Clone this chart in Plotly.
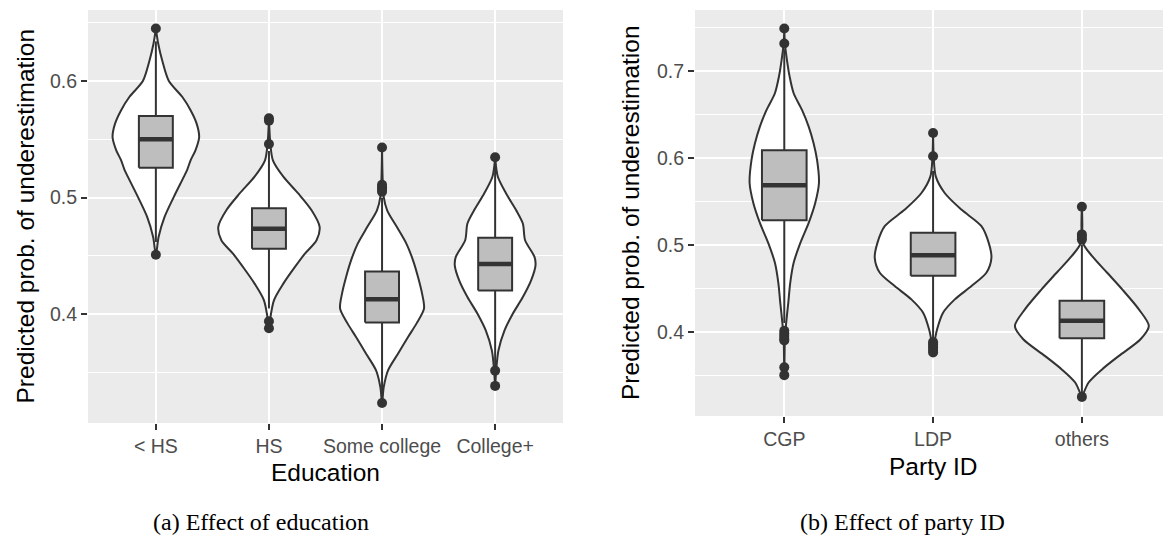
import plotly.graph_objects as go

W, H = 1163, 535

# ---------------- data ----------------
edu_cats = ["< HS", "HS", "Some college", "College+"]
party_cats = ["CGP", "LDP", "others"]

# violin outlines: levels of predicted probability and half-widths (category units)
lths_levels = [0.645, 0.632, 0.618, 0.600, 0.5865, 0.575, 0.5637, 0.552, 0.5408, 0.532, 0.5236, 0.518, 0.5007, 0.4835, 0.4663, 0.451]
lths_hw     = [0.0, 0.021, 0.055, 0.115, 0.233, 0.307, 0.360, 0.383, 0.351, 0.307, 0.276, 0.248, 0.159, 0.077, 0.024, 0.0]

hs_levels = [0.568, 0.5465, 0.532, 0.518, 0.5036, 0.4892, 0.475, 0.4635, 0.452, 0.4406, 0.4263, 0.412, 0.3948, 0.387]
hs_hw     = [0.0, 0.012, 0.035, 0.127, 0.259, 0.377, 0.448, 0.421, 0.318, 0.230, 0.127, 0.044, 0.009, 0.0]

sc_levels = [0.543, 0.5007, 0.4892, 0.475, 0.4606, 0.4463, 0.432, 0.4177, 0.4048, 0.392, 0.3805, 0.3662, 0.3519, 0.3376, 0.324]
sc_hw     = [0.0, 0.015, 0.045, 0.130, 0.215, 0.274, 0.318, 0.354, 0.371, 0.304, 0.230, 0.141, 0.053, 0.015, 0.0]

cp_levels = [0.5346, 0.5179, 0.5036, 0.4892, 0.4778, 0.4635, 0.4492, 0.442, 0.4291, 0.4148, 0.4005, 0.3862, 0.369, 0.3519, 0.3386]
cp_hw     = [0.0, 0.024, 0.097, 0.186, 0.245, 0.265, 0.348, 0.357, 0.318, 0.245, 0.156, 0.083, 0.029, 0.009, 0.0]

cgp_levels = [0.749, 0.7318, 0.7126, 0.6935, 0.6744, 0.6552, 0.636, 0.6169, 0.5979, 0.5711, 0.5481, 0.5252, 0.5022, 0.4793, 0.4563, 0.4334, 0.4104, 0.3913, 0.3493]
cgp_hw     = [0.0, 0.004, 0.018, 0.036, 0.063, 0.119, 0.164, 0.197, 0.220, 0.233, 0.208, 0.164, 0.108, 0.063, 0.040, 0.027, 0.013, 0.004, 0.0]

ldp_levels = [0.6286, 0.6017, 0.5787, 0.5596, 0.5405, 0.5214, 0.5022, 0.485, 0.4678, 0.4525, 0.4372, 0.4219, 0.4028, 0.3875, 0.376]
ldp_hw     = [0.0, 0.004, 0.018, 0.078, 0.190, 0.325, 0.374, 0.392, 0.358, 0.258, 0.146, 0.067, 0.027, 0.009, 0.0]

oth_levels = [0.5438, 0.5022, 0.4869, 0.4678, 0.4487, 0.4257, 0.4066, 0.3913, 0.3722, 0.3569, 0.3415, 0.3262, 0.325]
oth_hw     = [0.0, 0.007, 0.069, 0.170, 0.271, 0.383, 0.450, 0.394, 0.249, 0.137, 0.045, 0.004, 0.0]

# box statistics
edu_q1     = [0.5257, 0.4563, 0.3929, 0.4203]
edu_median = [0.5500, 0.4734, 0.4129, 0.4432]
edu_q3     = [0.5700, 0.4909, 0.4366, 0.4657]
edu_lowf   = [0.4620, 0.4050, 0.3280, 0.3540]
edu_upf    = [0.6340, 0.5400, 0.5000, 0.5320]

party_q1     = [0.5282, 0.4645, 0.3924]
party_median = [0.5686, 0.4881, 0.4126]
party_q3     = [0.6087, 0.5140, 0.4355]
party_lowf   = [0.4100, 0.3920, 0.3280]
party_upf    = [0.7250, 0.5850, 0.5000]

# outliers
lths_out = [0.645, 0.451]
hs_out   = [0.568, 0.566, 0.546, 0.394, 0.388]
sc_out   = [0.543, 0.511, 0.509, 0.507, 0.505, 0.324]
cp_out   = [0.5346, 0.3517, 0.3386]
cgp_out  = [0.749, 0.7317, 0.401, 0.398, 0.395, 0.392, 0.390, 0.359, 0.350]
ldp_out  = [0.6286, 0.602, 0.388, 0.385, 0.382, 0.379, 0.376]
oth_out  = [0.5438, 0.512, 0.509, 0.506, 0.325]

# ---------------- styling ----------------
DARK = "#333333"
PANEL = "#EBEBEB"
BOXFILL = "#BEBEBE"
SANS = "Liberation Sans, Arial, sans-serif"
SERIF = "Liberation Serif, Times New Roman, serif"
BOX_W = 0.3

fig = go.Figure()


def add_panel(xa, ya, levels_list, hw_list, q1, med, q3, lowf, upf, outs):
    n = len(levels_list)
    pos = list(range(1, n + 1))
    common = dict(xaxis=xa, yaxis=ya, hoverinfo="skip", showlegend=False)
    # violins
    for c, lv, hw in zip(pos, levels_list, hw_list):
        xs = [c + w for w in reversed(hw)] + [c - w for w in hw]
        ys = list(reversed(lv)) + list(lv)
        fig.add_trace(go.Scatter(
            x=xs, y=ys, mode="lines", fill="toself", fillcolor="white",
            line=dict(color=DARK, width=2, shape="spline", smoothing=0.8),
            **common))
    # whiskers
    wx, wy = [], []
    for c, a, b, lo, hi in zip(pos, q1, q3, lowf, upf):
        wx += [c, c, None, c, c, None]
        wy += [b, hi, None, a, lo, None]
    fig.add_trace(go.Scatter(x=wx, y=wy, mode="lines",
                             line=dict(color=DARK, width=2), **common))
    # boxes
    for c, a, b in zip(pos, q1, q3):
        h = BOX_W / 2
        fig.add_trace(go.Scatter(
            x=[c - h, c + h, c + h, c - h, c - h], y=[a, a, b, b, a],
            mode="lines", fill="toself", fillcolor=BOXFILL,
            line=dict(color=DARK, width=2), **common))
    # medians
    for c, m in zip(pos, med):
        fig.add_trace(go.Scatter(
            x=[c - BOX_W / 2, c + BOX_W / 2], y=[m, m], mode="lines",
            line=dict(color=DARK, width=4.5), **common))
    # outliers
    for c, o in zip(pos, outs):
        fig.add_trace(go.Scatter(
            x=[c] * len(o), y=o, mode="markers",
            marker=dict(color=DARK, size=10), **common))


add_panel("x", "y",
          [lths_levels, hs_levels, sc_levels, cp_levels],
          [lths_hw, hs_hw, sc_hw, cp_hw],
          edu_q1, edu_median, edu_q3, edu_lowf, edu_upf,
          [lths_out, hs_out, sc_out, cp_out])
add_panel("x2", "y2",
          [cgp_levels, ldp_levels, oth_levels],
          [cgp_hw, ldp_hw, oth_hw],
          party_q1, party_median, party_q3, party_lowf, party_upf,
          [cgp_out, ldp_out, oth_out])


def px_x(p):
    return p / W


def px_y(p):
    return 1 - p / H


tickfont = dict(family=SANS, size=19.5, color="#4D4D4D")
common_x = dict(showgrid=True, gridcolor="white", gridwidth=2, zeroline=False,
                showline=False, ticks="outside", ticklen=6, tickwidth=2,
                tickcolor=DARK, tickfont=tickfont, fixedrange=True)
common_y = dict(showgrid=True, gridcolor="white", gridwidth=2, zeroline=False,
                showline=False, ticks="outside", ticklen=6, tickwidth=2,
                tickcolor=DARK, tickfont=tickfont, dtick=0.1, tick0=0,
                tickformat=".1f",
                minor=dict(dtick=0.05, tick0=0, showgrid=True,
                           gridcolor="white", gridwidth=1.1),
                fixedrange=True)

fig.update_layout(
    width=W, height=H, margin=dict(l=0, r=0, t=0, b=0),
    paper_bgcolor="white", plot_bgcolor=PANEL, showlegend=False,
    xaxis=dict(common_x, domain=[px_x(88), px_x(563)], range=[0.4, 4.6],
               tickvals=[1, 2, 3, 4], ticktext=edu_cats, anchor="y"),
    yaxis=dict(common_y, domain=[px_y(423), px_y(10)], range=[0.3068, 0.6609],
               anchor="x"),
    xaxis2=dict(common_x, domain=[px_x(695), 1.0], range=[0.4, 0.4 + 468 / 148.8],
                tickvals=[1, 2, 3], ticktext=party_cats, anchor="y2"),
    yaxis2=dict(common_y, domain=[px_y(416), px_y(10)], range=[0.303, 0.7702],
                anchor="x2"),
)

title_font = dict(family=SANS, size=24.5, color="black")
cap_font = dict(family=SERIF, size=24, color="black")
ann = [
    dict(text="Predicted prob. of underestimation", x=px_x(25), y=px_y(216.5),
         textangle=-90, font=title_font),
    dict(text="Predicted prob. of underestimation", x=px_x(630), y=px_y(213),
         textangle=-90, font=title_font),
    dict(text="Education", x=px_x(325.5), y=px_y(472), font=title_font),
    dict(text="Party ID", x=px_x(933), y=px_y(466), font=title_font),
    dict(text="(a) Effect of education", x=px_x(261), y=px_y(522), font=cap_font),
    dict(text="(b) Effect of party ID", x=px_x(902), y=px_y(522), font=cap_font),
]
for a in ann:
    a.update(xref="paper", yref="paper", xanchor="center", yanchor="middle",
             showarrow=False)
fig.update_layout(annotations=ann)

fig.write_html("out.html")
